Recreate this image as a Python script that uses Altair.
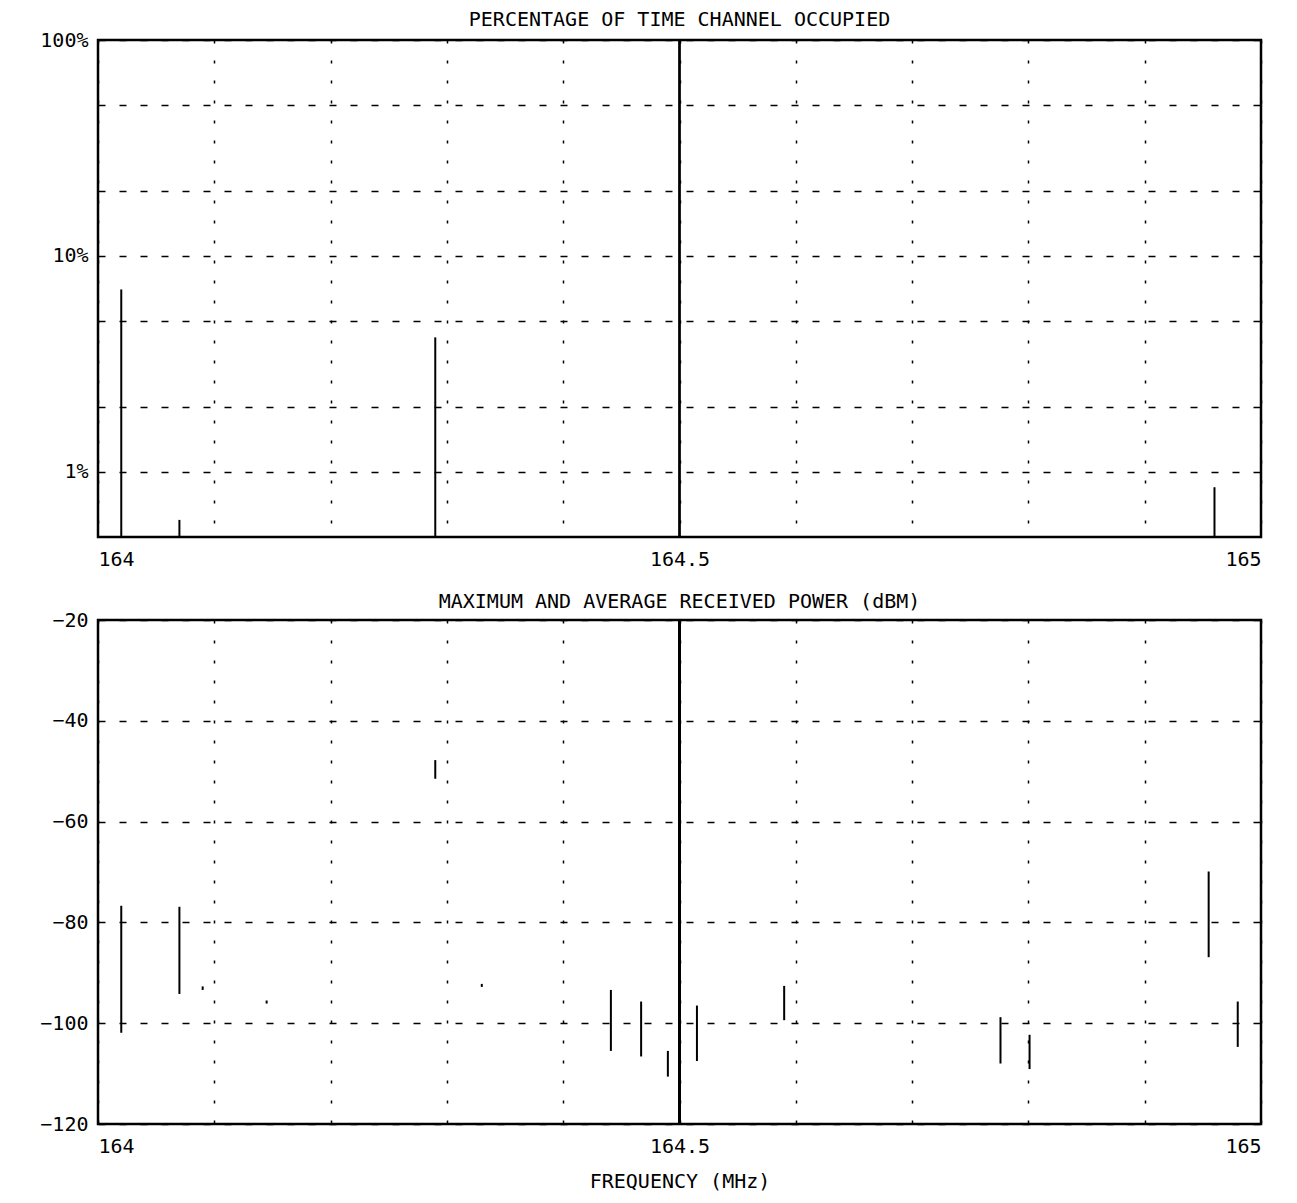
import altair as alt
import pandas as pd

# ---- data ----
occ_freq = [164.02, 164.07, 164.29, 164.96]
occ_pct = [7.0, 0.6, 4.2, 0.85]

pow_freq = [164.02, 164.07, 164.09, 164.145, 164.29, 164.33, 164.441, 164.467,
            164.49, 164.515, 164.59, 164.776, 164.801, 164.955, 164.98]
pow_max = [-76.7, -76.9, -92.7, -95.5, -47.8, -92.2, -93.4, -95.7,
           -105.5, -96.5, -92.6, -98.8, -102.3, -69.9, -95.7]
pow_min = [-101.9, -94.2, -93.4, -96.1, -51.5, -92.8, -105.5, -106.6,
           -110.6, -107.5, -99.4, -108.0, -109.1, -86.9, -104.7]

x_ticks = [164.0, 164.1, 164.2, 164.3, 164.4, 164.5, 164.6, 164.7, 164.8, 164.9, 165.0]
occ_ticks = [1, 2, 5, 10, 20, 50, 100]
pow_ticks = [-120, -100, -80, -60, -40, -20]

FONT = "DejaVu Sans Mono"

occ_df = pd.DataFrame({"freq": occ_freq, "pct": occ_pct})
pow_df = pd.DataFrame({"freq": pow_freq, "pmax": pow_max, "pmin": pow_min})

x_label_expr = ("abs(datum.value-164)<0.001 ? '164' : (abs(datum.value-164.5)<0.001 ? '164.5' : "
                "(abs(datum.value-165)<0.001 ? '165' : ''))")


def x_axis(title=None):
    kw = dict(values=x_ticks, labelExpr=x_label_expr, grid=True, gridDash=[3, 17],
              gridColor="black", gridWidth=1.5, gridOpacity=1, ticks=False, domain=False,
              labelPadding=12, labelFlush=True, labelFontSize=20, labelFont=FONT,
              labelColor="black")
    if title:
        kw.update(title=title, titleFont=FONT, titleFontSize=20, titleFontWeight="normal",
                  titleColor="black", titlePadding=15)
    else:
        kw.update(title=None)
    return alt.Axis(**kw)


x_scale = alt.Scale(domain=[164, 165], nice=False, zero=False)

# ---- top panel ----
occ_bars = alt.Chart(occ_df).mark_rule(color="black", strokeWidth=2).encode(
    x=alt.X("freq:Q", scale=x_scale, axis=x_axis()),
    y=alt.Y("pct:Q",
            scale=alt.Scale(type="log", domain=[0.5, 100], nice=False),
            axis=alt.Axis(values=occ_ticks,
                          labelExpr="datum.value==1 ? '1%' : (datum.value==10 ? '10%' : (datum.value==100 ? '100%' : ''))",
                          grid=True, gridDash=[7, 14], gridColor="black", gridWidth=1.5,
                          gridOpacity=1, ticks=False, domain=False, title=None,
                          labelPadding=10, labelFontSize=20, labelFont=FONT,
                          labelColor="black")),
    y2=alt.datum(0.5),
)
occ_mid = alt.Chart(occ_df).mark_rule(color="black", strokeWidth=1.8).encode(
    x=alt.datum(164.5)
)
top = alt.layer(occ_bars, occ_mid).properties(
    width=1163, height=497,
    title=alt.TitleParams("PERCENTAGE OF TIME CHANNEL OCCUPIED", font=FONT, fontSize=20,
                          fontWeight="normal", color="black", offset=0),
)

# ---- bottom panel ----
pow_bars = alt.Chart(pow_df).mark_rule(color="black", strokeWidth=2).encode(
    x=alt.X("freq:Q", scale=x_scale, axis=x_axis("FREQUENCY (MHz)")),
    y=alt.Y("pmax:Q",
            scale=alt.Scale(domain=[-120, -20], nice=False, zero=False),
            axis=alt.Axis(values=pow_ticks, grid=True, gridDash=[7, 14], gridColor="black",
                          gridWidth=1.5, gridOpacity=1, ticks=False, domain=False,
                          title=None, labelPadding=10, labelFontSize=20, labelFont=FONT,
                          labelColor="black")),
    y2="pmin:Q",
)
pow_mid = alt.Chart(pow_df).mark_rule(color="black", strokeWidth=1.8).encode(
    x=alt.datum(164.5)
)
bottom = alt.layer(pow_bars, pow_mid).properties(
    width=1163, height=504,
    title=alt.TitleParams("MAXIMUM AND AVERAGE RECEIVED POWER (dBM)", font=FONT, fontSize=20,
                          fontWeight="normal", color="black", offset=-2),
)

chart = alt.vconcat(top, bottom, spacing=19).properties(
    padding={"left": 30, "top": 0, "right": 20, "bottom": 0}
).configure(
    background="white"
).configure_view(
    stroke="black", strokeWidth=2.5
)

chart.save("out.html", embed_options={"renderer": "svg", "actions": False})
